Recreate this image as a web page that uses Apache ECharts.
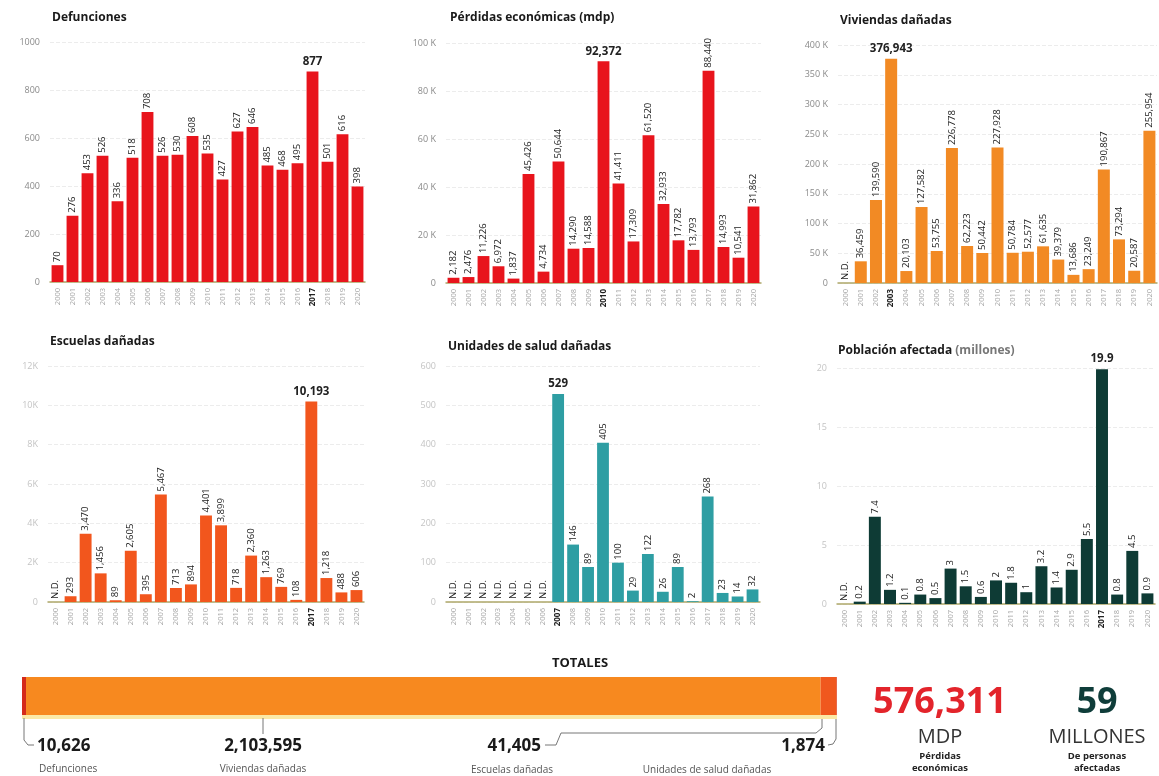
<!DOCTYPE html>
<html><head><meta charset="utf-8">
<script src="https://cdn.jsdelivr.net/npm/echarts@6/dist/echarts.min.js"></script>
<style>html,body{margin:0;padding:0;background:#fff;} #c{width:1159px;height:776px;}</style>
</head><body><div id="c"></div>
<script>
const years = ['2000','2001','2002','2003','2004','2005','2006','2007','2008','2009','2010','2011','2012','2013','2014','2015','2016','2017','2018','2019','2020'];
const defunciones = [70,276,453,526,336,518,708,526,530,608,535,427,627,646,485,468,495,877,501,616,398];
const perdidas = [2182,2476,11226,6972,1837,45426,4734,50644,14290,14588,92372,41411,17309,61520,32933,17782,13793,88440,14993,10541,31862];
const viviendas = [null,36459,139590,376943,20103,127582,53755,226778,62223,50442,227928,50784,52577,61635,39379,13686,23249,190867,73294,20587,255954];
const escuelas = [null,293,3470,1456,89,2605,395,5467,713,894,4401,3899,718,2360,1263,769,108,10193,1218,488,606];
const salud = [null,null,null,null,null,null,null,529,146,89,405,100,29,122,26,89,2,268,23,14,32];
const poblacion = [null,0.2,7.4,1.2,0.1,0.8,0.5,3,1.5,0.6,2,1.8,1,3.2,1.4,2.9,5.5,19.9,0.8,4.5,0.9];
const totalLabels = ['Defunciones','Viviendas dañadas','Escuelas dañadas','Unidades de salud dañadas'];
const totalValues = [10626,2103595,41405,1874];
const perdidasTotal = 576311;
const poblacionTotal = 59;

const FONT = '"Open Sans", "Noto Sans", sans-serif';
const num = v => Number(v).toLocaleString('en-US');
const kFmt = sp => v => v === 0 ? '0' : (v/1000) + (sp ? ' K' : 'K');

const panels = [
  {title:'Defunciones', data:defunciones, color:'#e8141c', left:50, top:42, width:315, height:240, max:1000, interval:200, yFmt:v=>String(v), vFmt:num, yc:'#8a8a8a', tl:52, tt:12},
  {title:'Pérdidas económicas (mdp)', data:perdidas, color:'#e8141c', left:446, top:43, width:315, height:240, max:100000, interval:20000, yFmt:kFmt(true), vFmt:num, yc:'#8a8a8a', tl:450, tt:12},
  {title:'Viviendas dañadas', data:viviendas, color:'#f28a24', left:838, top:45, width:319, height:238, max:400000, interval:50000, yFmt:kFmt(true), vFmt:num, yc:'#8a8a8a', tl:840, tt:15},
  {title:'Escuelas dañadas', data:escuelas, color:'#f2561d', left:48, top:366, width:316, height:236, max:12000, interval:2000, yFmt:kFmt(false), vFmt:num, yc:'#c4c4c4', tl:50, tt:336},
  {title:'Unidades de salud dañadas', data:salud, color:'#2e9ea3', left:446, top:366, width:314, height:236, max:600, interval:100, yFmt:v=>String(v), vFmt:num, yc:'#c4c4c4', tl:448, tt:341},
  {title:'{b|Población afectada} {n|(millones)}', data:poblacion, color:'#0e3b35', left:837, top:368, width:318, height:236, max:20, interval:5, yFmt:v=>String(v), vFmt:v=>String(v), yc:'#c4c4c4', tl:838, tt:345}
];

const grid = [], xAxis = [], yAxis = [], series = [], title = [];
panels.forEach((p, i) => {
  const vals = p.data.filter(v => v != null);
  const maxIdx = p.data.indexOf(Math.max(...vals));
  grid.push({left:p.left, top:p.top, width:p.width, height:p.height});
  title.push({text:p.title, left:p.tl, top:p.tt, padding:0, textStyle:{fontFamily:FONT, fontSize:12, fontWeight:'bold', color:'#1a1a1a',
    rich:{b:{fontFamily:FONT, fontSize:12, fontWeight:'bold', color:'#1a1a1a'}, n:{fontFamily:FONT, fontSize:12, color:'#777'}}}});
  xAxis.push({type:'category', gridIndex:i, data:years, axisTick:{show:false},
    axisLine:{lineStyle:{color:'#aea86a', width:1.5}},
    axisLabel:{rotate:90, fontSize:7.5, color:'#a8a8a8', margin:6, fontFamily:FONT, interval:0,
      formatter:(v, idx) => idx === maxIdx ? '{b|' + v + '}' : v,
      rich:{b:{fontWeight:'bold', color:'#222', fontSize:8, fontFamily:FONT}}}});
  yAxis.push({type:'value', gridIndex:i, min:0, max:p.max, interval:p.interval,
    axisLine:{show:false}, axisTick:{show:false},
    axisLabel:{color:p.yc, fontSize:9, fontFamily:FONT, margin:10, formatter:p.yFmt},
    splitLine:{lineStyle:{color:'#ececec', type:'dashed'}}});
  series.push({type:'bar', xAxisIndex:i, yAxisIndex:i, barCategoryGap:'21%',
    itemStyle:{color:p.color},
    label:{show:true, position:'top', rotate:90, align:'left', verticalAlign:'middle', distance:3,
      fontSize:9.5, color:'#222', fontFamily:FONT, formatter:prm => p.vFmt(prm.value)},
    data:p.data.map((v, idx) => {
      if (v == null) return {value:0, label:{formatter:'N.D.'}};
      if (idx === maxIdx) return {value:v, label:{rotate:0, align:'center', verticalAlign:'bottom', fontWeight:'bold', fontSize:11.5, distance:4, formatter:p.vFmt(v)}};
      return v;
    })});
});

// Totals band
const totalSum = totalValues.reduce((a, b) => a + b, 0);
const bandColors = ['#d42a1a','#f7891f','#f0581e','#e0401a'];
grid.push({left:22, top:677, width:815, height:38});
xAxis.push({type:'value', gridIndex:6, min:0, max:totalSum, show:false});
yAxis.push({type:'category', gridIndex:6, data:['TOTALES'], show:false});
totalValues.forEach((v, k) => {
  series.push({type:'bar', xAxisIndex:6, yAxisIndex:6, stack:'tot', barWidth:'100%', name:totalLabels[k],
    itemStyle:{color:bandColors[k]}, data:[v], silent:true});
});

const txt = (x, y, t, size, weight, color, align) => ({type:'text', x, y,
  style:{text:t, fontSize:size, fontWeight:weight||'normal', fill:color||'#222', fontFamily:FONT, textAlign:align||'left', textVerticalAlign:'middle'}});
const line = pts => ({type:'polyline', shape:{points:pts}, style:{stroke:'#777', lineWidth:1, fill:null}});

const graphic = [
  txt(580, 663, 'TOTALES', 13, 'bold', '#1a1a1a', 'center'),
  {type:'rect', shape:{x:22, y:715, width:815, height:4}, style:{fill:'#fbe9a6'}},
  txt(37, 746, num(totalValues[0]), 17, 'bold', '#1a1a1a', 'left'),
  txt(39, 769, totalLabels[0], 10, 'normal', '#555', 'left'),
  txt(263, 746, num(totalValues[1]), 17, 'bold', '#1a1a1a', 'center'),
  txt(263, 769, totalLabels[1], 10, 'normal', '#555', 'center'),
  txt(541, 746, num(totalValues[2]), 17, 'bold', '#1a1a1a', 'right'),
  txt(512, 770, totalLabels[2], 10, 'normal', '#555', 'center'),
  txt(825, 746, num(totalValues[3]), 17, 'bold', '#1a1a1a', 'right'),
  txt(707, 770, totalLabels[3], 10, 'normal', '#555', 'center'),
  line([[24,718],[24,740],[28,745],[34,745]]),
  line([[263,718],[263,734]]),
  line([[545,745],[556,745],[561,733],[816,733],[822,728],[822,719]]),
  line([[828,745],[833,744],[836,739],[836,719]]),
  txt(940, 703, num(perdidasTotal), 36, 'bold', '#e3242b', 'center'),
  txt(940, 737, 'MDP', 20, 'normal', '#333', 'center'),
  txt(940, 756, 'Pérdidas', 9.5, 'bold', '#222', 'center'),
  txt(940, 768, 'económicas', 9.5, 'bold', '#222', 'center'),
  txt(1097, 703, String(poblacionTotal), 36, 'bold', '#0f3d3a', 'center'),
  txt(1097, 737, 'MILLONES', 20, 'normal', '#333', 'center'),
  txt(1097, 756, 'De personas', 9.5, 'bold', '#222', 'center'),
  txt(1097, 768, 'afectadas', 9.5, 'bold', '#222', 'center')
];

const chart = echarts.init(document.getElementById('c'));
chart.setOption({animation:false, backgroundColor:'#fff', title, grid, xAxis, yAxis, series, graphic});
</script></body></html>
